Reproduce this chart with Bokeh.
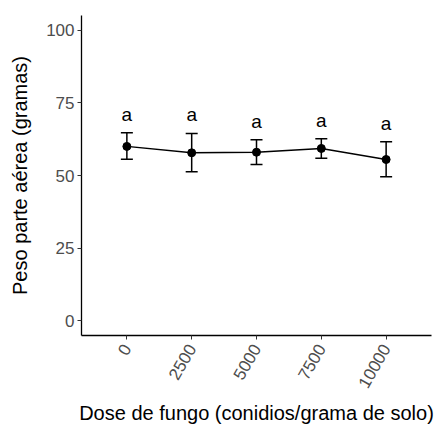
from bokeh.plotting import figure
from bokeh.models import ColumnDataSource, Whisker, TeeHead, FixedTicker, FactorRange, Range1d
from bokeh.core.properties import value
from bokeh.embed import file_html
from bokeh.resources import INLINE
import math

doses = ["0", "2500", "5000", "7500", "10000"]
means = [60.0, 57.8, 58.0, 59.3, 55.5]
upper = [64.7, 64.4, 62.3, 62.6, 61.6]
lower = [55.6, 51.3, 53.8, 55.9, 49.6]
letters = ["a", "a", "a", "a", "a"]
y_ticks = [0, 25, 50, 75, 100]

label_y = [u + 6.4 for u in upper]

src = ColumnDataSource(dict(x=doses, m=means, up=upper, lo=lower, lab=letters, ly=label_y))

p = figure(width=435, height=427, x_range=FactorRange(*doses, range_padding=0.2, range_padding_units="absolute"),
           y_range=Range1d(-5, 105), output_backend="svg", toolbar_location=None,
           min_border_left=81, min_border_right=4, min_border_top=15, min_border_bottom=92)
p.outline_line_color = None
p.xgrid.visible = False
p.ygrid.visible = False
p.background_fill_color = "white"
p.border_fill_color = "white"

w = Whisker(source=src, base="x", upper="up", lower="lo", line_color="black", line_width=1.5,
            upper_head=TeeHead(size=12, line_color="black", line_width=1.5),
            lower_head=TeeHead(size=12, line_color="black", line_width=1.5))
p.add_layout(w)
p.line("x", "m", source=src, line_color="black", line_width=1.4)
p.scatter("x", "m", source=src, size=8, color="black")
p.text("x", "ly", text="lab", source=src, text_align="center", text_baseline="alphabetic",
       text_font=value("Liberation Sans"), text_font_size="19px", text_color="black")

for ax in (p.xaxis[0], p.yaxis[0]):
    ax.axis_line_color = "black"
    ax.axis_line_width = 1.3
    ax.major_tick_line_color = "#333333"
    ax.major_tick_in = 0
    ax.major_tick_out = 4
    ax.minor_tick_line_color = None
    ax.major_label_text_font = "Liberation Sans"
    ax.major_label_text_font_size = "17px"
    ax.major_label_text_color = "#4d4d4d"
    ax.axis_label_text_font = "Liberation Sans"
    ax.axis_label_text_font_size = "20px"
    ax.axis_label_text_font_style = "normal"
    ax.axis_label_text_color = "black"

p.yaxis.ticker = FixedTicker(ticks=y_ticks)
p.yaxis.major_label_standoff = 3
p.yaxis.axis_label = "Peso parte aérea (gramas)"
p.yaxis.axis_label_standoff = 12

p.xaxis.major_label_orientation = math.pi / 3
p.xaxis.major_label_standoff = 6
p.xaxis.axis_label = "Dose de fungo (conidios/grama de solo)"
p.xaxis.axis_label_standoff = 7

open("out.html", "w").write(file_html(p, INLINE))
